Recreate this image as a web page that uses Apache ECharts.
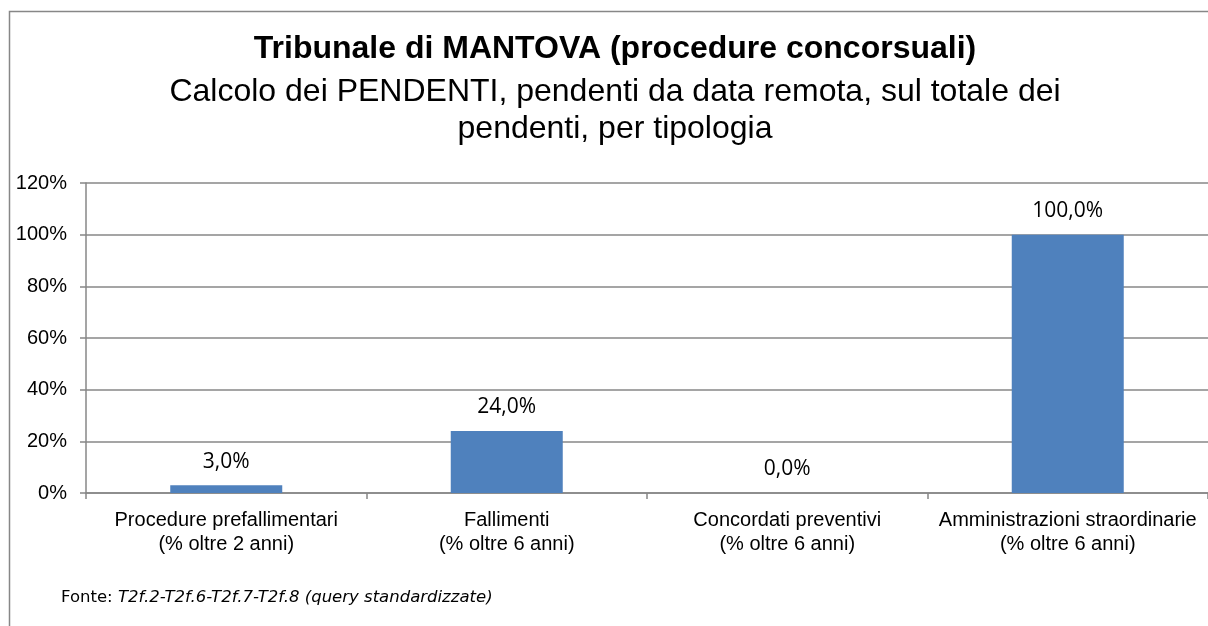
<!DOCTYPE html>
<html>
<head>
    <meta charset="utf-8">
    <title>Tribunale di MANTOVA</title>
    <script src="https://cdn.jsdelivr.net/npm/echarts@6/dist/echarts.min.js"></script>
    <style>
        body { margin: 0; background: #fff; }
        #main { width: 1208px; height: 626px; }
    </style>
</head>
<body>
<div id="main"></div>
<script type="text/javascript">
    // dati
    var categorie = [
        'Procedure prefallimentari\n(% oltre 2 anni)',
        'Fallimenti\n(% oltre 6 anni)',
        'Concordati preventivi\n(% oltre 6 anni)',
        'Amministrazioni straordinarie\n(% oltre 6 anni)'
    ];
    var valori = [3.0, 24.0, 0.0, 100.0];
    var tickAsseY = [0, 20, 40, 60, 80, 100, 120];

    var myChart = echarts.init(document.getElementById('main'));
    var option = {
        backgroundColor: '#fff',
        animation: false,
        title: {
            text: 'Tribunale di MANTOVA (procedure concorsuali)',
            subtext: 'Calcolo dei PENDENTI, pendenti da data remota, sul totale dei\npendenti, per tipologia',
            left: 615,
            textAlign: 'center',
            top: 33,
            itemGap: 9,
            padding: 0,
            textStyle: {
                fontFamily: 'Liberation Sans',
                fontSize: 32,
                fontWeight: 'bold',
                color: '#000'
            },
            subtextStyle: {
                fontFamily: 'Liberation Sans',
                fontSize: 32,
                color: '#000',
                lineHeight: 37
            }
        },
        graphic: [
            {
                type: 'rect',
                shape: { x: 9.5, y: 11.5, width: 1220, height: 640 },
                style: { fill: null, stroke: '#878787', lineWidth: 1.5 },
                silent: true
            },
            {
                type: 'text',
                left: 61,
                top: 589,
                style: {
                    text: '{a|Fonte: }{b|T2f.2-T2f.6-T2f.7-T2f.8 (query standardizzate)}',
                    rich: {
                        a: { fontFamily: 'DejaVu Sans', fontSize: 16.5, fill: '#000' },
                        b: { fontFamily: 'DejaVu Sans', fontSize: 16.5, fontStyle: 'italic', fill: '#000' }
                    }
                }
            }
        ],
        grid: {
            left: 86,
            top: 183,
            width: 1124,
            height: 310,
            containLabel: false
        },
        xAxis: {
            type: 'category',
            data: categorie,
            axisLine: { lineStyle: { color: '#878787', width: 1.5 } },
            axisTick: { show: true, length: 6, lineStyle: { color: '#878787', width: 1.5 } },
            axisLabel: {
                margin: 15,
                fontFamily: 'Liberation Sans',
                fontSize: 20,
                color: '#000',
                lineHeight: 24,
                interval: 0
            }
        },
        yAxis: {
            type: 'value',
            min: tickAsseY[0],
            max: tickAsseY[tickAsseY.length - 1],
            interval: 20,
            axisLine: { show: true, lineStyle: { color: '#878787', width: 1.5 } },
            axisTick: { show: true, length: 6, lineStyle: { color: '#878787', width: 1.5 } },
            splitLine: { lineStyle: { color: '#878787', width: 1.5 } },
            axisLabel: {
                formatter: '{value}%',
                margin: 19,
                fontFamily: 'Liberation Sans',
                fontSize: 20,
                color: '#000'
            }
        },
        series: [{
            type: 'bar',
            data: valori,
            barWidth: 112,
            itemStyle: { color: '#4F81BD' },
            label: {
                show: true,
                position: 'top',
                distance: 13,
                fontFamily: 'Open Sans',
                fontSize: 21,
                color: '#000',
                formatter: function (p) {
                    return p.value.toFixed(1).replace('.', ',') + '%';
                }
            }
        }]
    };
    myChart.setOption(option);
</script>
</body>
</html>
